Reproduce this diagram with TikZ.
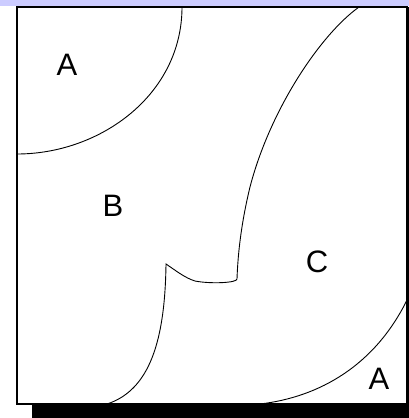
\documentclass[tikz,border=0pt]{standalone}
\usepackage{fontspec}
\setmainfont{Liberation Sans}
\usepackage{tikz}
\usetikzlibrary{calc}
\definecolor{lavender}{RGB}{204,204,255}

\begin{document}
\begin{tikzpicture}[x=1pt,y=-1pt,
    every node/.style={font=\fontsize{31}{31}\selectfont},
    boundary/.style={line width=0.9pt}]
            \useasboundingbox (0,0) rectangle (409,418);
            % background band and shadow
            \fill[lavender] (0,0) rectangle (409,6);
            \fill[black] (32,405) rectangle (409,418);
            \fill[black] (407,7) rectangle (409,418);
            \draw[line width=1.4pt] (17,7) rectangle (407,404);
            % region boundaries
            \draw[boundary] (182,7) .. controls (182,95) and (100,154) .. (17,154);
            \draw[boundary] (359,7) .. controls (320,35) and (270,110) .. (250,187)
                .. controls (242,220) and (238,250) .. (237,279)
                .. controls (237,283) and (210,284) .. (195,281)
                .. controls (185,278) and (175,270) .. (166,264)
                .. controls (165,340) and (150,390) .. (107,404);
            \draw[boundary] (407,300) .. controls (375,365) and (320,397) .. (260,404);
            % region labels
            \node (a1) at (67,65) {A};
            \node (b) at (113,206) {B};
            \node (c) at (317,262) {C};
            \node (a2) at (379,379) {A};
        \end{tikzpicture}
\end{document}
